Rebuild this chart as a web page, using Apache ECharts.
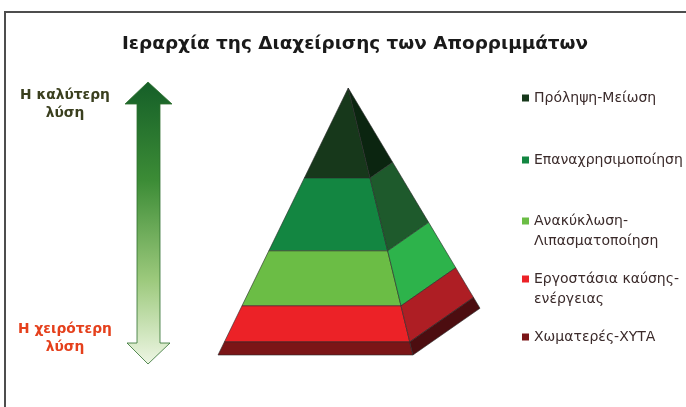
<!DOCTYPE html>
<html>
<head>
<meta charset="utf-8">
<script src="https://cdn.jsdelivr.net/npm/echarts@6/dist/echarts.min.js"></script>
<style>
html,body{margin:0;padding:0;background:#fff;}
#chart{width:686px;height:407px;}
</style>
</head>
<body>
<div id="chart"></div>
<script>
// ---- data ----
const titleText = 'Ιεραρχία της Διαχείρισης των Απορριμμάτων';
const categories = [
  'Πρόληψη-Μείωση',
  'Επαναχρησιμοποίηση',
  'Ανακύκλωση-Λιπασματοποίηση',
  'Εργοστάσια καύσης-ενέργειας',
  'Χωματερές-ΧΥΤΑ'
];
// share of the pyramid height taken by each layer (top to bottom), percent
const layerShare = [33.7, 27.3, 20.6, 13.5, 4.9];
const bestLabel = 'Η καλύτερη\nλύση';
const worstLabel = 'Η χειρότερη\nλύση';

// ---- styles ----
const frontColors = ['#17381b', '#138641', '#6bbd45', '#ec2227', '#7b1517'];
const sideColors  = ['#0b2510', '#1e5a2c', '#2db34b', '#ae1e24', '#4c0d10'];

// pyramid geometry in axis units (x: 0..100, y: 0..100)
const FL = [0, 0], FR = [74.4, 0], BR = [100, 17.5], APEX = [49.7, 100];

// cumulative levels (bottom to top)
const levels = [];
(function () {
  let top = 100;
  for (let i = 0; i < layerShare.length; i++) {
    const lo = Math.max(0, top - layerShare[i]);
    levels.push([lo, top]);
    top = lo;
  }
})();

function renderLayer(idx) {
  return function (params, api) {
    const lo = api.value(0), hi = api.value(1);
    function pt(c, level) {
      const t = level / 100;
      return api.coord([c[0] + t * (APEX[0] - c[0]), c[1] + t * (APEX[1] - c[1])]);
    }
    return {
      type: 'group',
      children: [
        {
          type: 'polygon',
          shape: { points: [pt(FL, lo), pt(FR, lo), pt(FR, hi), pt(FL, hi)] },
          style: { fill: frontColors[idx], stroke: '#2a2a2a', lineWidth: 0.6 }
        },
        {
          type: 'polygon',
          shape: { points: [pt(FR, lo), pt(BR, lo), pt(BR, hi), pt(FR, hi)] },
          style: { fill: sideColors[idx], stroke: '#2a2a2a', lineWidth: 0.6 }
        }
      ]
    };
  };
}

const legendTops = [88, 150, 191, 249, 327];

const chart = echarts.init(document.getElementById('chart'), null, { renderer: 'canvas' });
chart.setOption({
  animation: false,
  backgroundColor: '#ffffff',
  title: {
    text: titleText,
    left: 122,
    top: 34,
    padding: 0,
    textStyle: { fontFamily: 'DejaVu Sans', fontWeight: 'bold', fontSize: 18.4, color: '#1a1a1a', lineHeight: 20 }
  },
  grid: { left: 218, top: 88, width: 262, height: 267 },
  xAxis: { type: 'value', min: 0, max: 100, show: false },
  yAxis: { type: 'value', min: 0, max: 100, show: false },
  legend: categories.map((name, i) => ({
    data: [name],
    left: 522,
    top: legendTops[i],
    padding: 0,
    orient: 'vertical',
    icon: 'rect',
    itemWidth: 7,
    itemHeight: 7,
    selectedMode: false,
    formatter: n => (n.length > 20 ? '\n' + n.replace('-', '-\n') : n),
    textStyle: { fontFamily: 'DejaVu Sans', fontSize: 14, color: '#3b2b2b', lineHeight: 20 }
  })),
  series: categories.map((name, i) => ({
    type: 'custom',
    name: name,
    silent: true,
    itemStyle: { color: frontColors[i] },
    renderItem: renderLayer(i),
    data: [levels[i]]
  })),
  graphic: [
    {
      type: 'rect',
      shape: { x: 5, y: 12, width: 700, height: 420 },
      style: { fill: 'none', stroke: '#4d4d4d', lineWidth: 2 },
      silent: true
    },
    {
      type: 'polygon',
      shape: {
        points: [[148, 82], [172, 104], [160, 104], [160, 343], [170, 343], [148, 364],
                 [127, 343], [137, 343], [137, 104], [125, 104]]
      },
      style: {
        fill: new echarts.graphic.LinearGradient(0, 0, 0, 1, [
          { offset: 0, color: '#155f28' },
          { offset: 0.35, color: '#3c8c36' },
          { offset: 0.7, color: '#9cc97c' },
          { offset: 1, color: '#eef6e4' }
        ]),
        stroke: '#2f6e2e',
        lineWidth: 0.8
      },
      silent: true
    },
    {
      type: 'text',
      x: 65, y: 104.5,
      style: {
        text: bestLabel, align: 'center', verticalAlign: 'middle',
        fontFamily: 'DejaVu Sans', fontWeight: 'bold', fontSize: 13.8, lineHeight: 18,
        fill: '#3a3f1e'
      }
    },
    {
      type: 'text',
      x: 65, y: 338,
      style: {
        text: worstLabel, align: 'center', verticalAlign: 'middle',
        fontFamily: 'DejaVu Sans', fontWeight: 'bold', fontSize: 13.8, lineHeight: 18,
        fill: '#e5401c'
      }
    }
  ]
});
</script>
</body>
</html>
